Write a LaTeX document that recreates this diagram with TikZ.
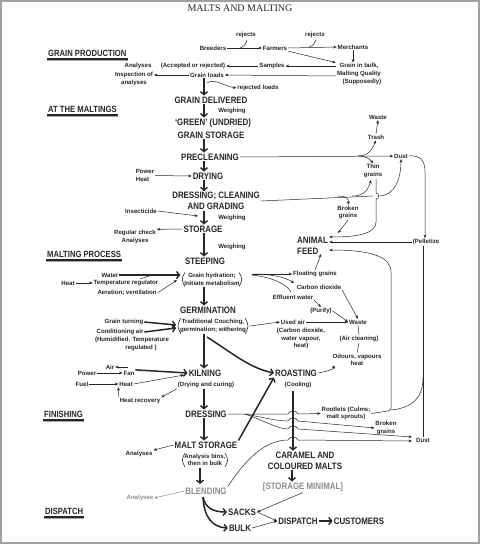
\documentclass[tikz,border=0pt]{standalone}
\usepackage{fontspec}
\setmainfont{Liberation Sans}
\newfontfamily\bigf[FakeStretch=0.85]{Liberation Sans}
\newfontfamily\titlef{Liberation Serif}
\usetikzlibrary{arrows.meta}
\definecolor{ink}{HTML}{262626}
\definecolor{faded}{HTML}{8C8C8C}
\newcommand\parenpair[1]{%
  \draw[ink,line width=0.6pt] ([xshift=1.5pt]#1.north west) .. controls ([xshift=-2pt]#1.west) .. ([xshift=1.5pt]#1.south west);
  \draw[ink,line width=0.6pt] ([xshift=-1.5pt]#1.north east) .. controls ([xshift=2pt]#1.east) .. ([xshift=-1.5pt]#1.south east);}
\begin{document}
\begin{tikzpicture}[x=1pt,y=-1pt,
  big/.style={font=\bigf\bfseries\fontsize{9.3}{10.6}\selectfont, inner sep=1pt, align=center, text=ink},
  head/.style={font=\bigf\bfseries\fontsize{9}{10}\selectfont, inner sep=1pt, text=ink, anchor=west},
  sm/.style={font=\bfseries\fontsize{6.1}{7.6}\selectfont, inner sep=0.8pt, align=center, text=ink},
  ar/.style={draw=ink, line width=0.5pt, -{Stealth[length=3.5pt,width=2.8pt]}},
  ln/.style={draw=ink, line width=0.5pt},
  tk/.style={draw=ink, line width=1.5pt, -{Straight Barb[length=3pt,width=7pt,line width=1.4pt]}},
  ul/.style={draw=ink, line width=1.4pt},
  uls/.style={draw=black!35, line width=1.2pt}]
\useasboundingbox (0,0) rectangle (480,544);
\fill[white] (0,0) rectangle (480,544);
\draw[gray!75, line width=2pt] (1,1) rectangle (479,543);
\coordinate (spine) at (204,0);

% title and section headings
\node[font=\titlef\fontsize{10}{12}\selectfont, text=ink] (title) at (240,8) {MALTS AND MALTING};
\node[head] (hgp) at (47,53) {GRAIN PRODUCTION};
\node[head] (hatm) at (47,109) {AT THE MALTINGS};
\node[head] (hmp) at (46,254) {MALTING PROCESS};
\node[head] (hfin) at (43,414) {FINISHING};
\node[head] (hdis) at (44,511) {DISPATCH};
\foreach \h in {hgp,hatm,hmp,hfin,hdis}{
  \draw[ul] ([yshift=-1.5pt]\h.south west) -- ([yshift=-1.5pt]\h.south east);
  \draw[uls] ([yshift=-3.3pt]\h.south west) -- ([yshift=-3.3pt]\h.south east);}

% ---------------- nodes ----------------
\node[sm] (breed) at (213,48) {Breeders};
\node[sm] (farm) at (275,48) {Farmers};
\node[sm] (merch) at (353,47) {Merchants};
\node[sm] (rej1) at (246,35) {rejects};
\node[sm] (rej2) at (315,35) {rejects};
\node[sm] (bulk) at (359,74) {Grain in bulk,\\Malting Quality\\\hspace*{6pt}(Supposedly)};
\node[sm] (samp) at (272,66) {Samples};
\node[sm] (acc) at (193,66) {(Accepted or rejected)};
\node[sm] (anl1) at (138,66) {Analyses};
\node[sm] (gl) at (207,75) {Grain loads};
\node[sm] (insp) at (134,79) {Inspection of\\analyses};
\node[sm] (rejl) at (258,88) {rejected loads};

\node[big] (gd) at (211,100) {GRAIN DELIVERED};
\node[sm] (weigh1) at (232,111) {Weighing};
\node[big] (green) at (213,123) {‘GREEN’ (UNDRIED)};
\node[big] (gs) at (211,135) {GRAIN STORAGE};
\node[big] (prec) at (210,157) {PRECLEANING};
\node[sm, align=left] (power) at (145,175.5) {Power\\Heat};
\node[big] (dry) at (208,176) {DRYING};
\node[big] (dress1) at (216,201) {DRESSING; CLEANING\\AND GRADING};
\node[sm] (insect) at (141,211) {Insecticide};
\node[sm] (weigh2) at (232,218) {Weighing};
\node[big] (stor) at (203,229) {STORAGE};
\node[sm] (regc) at (135,237) {Regular check\\Analyses};
\node[sm] (weigh3) at (232,247) {Weighing};

\node[sm] (waste1) at (378,117) {Waste};
\node[sm] (trash) at (376,137) {Trash};
\node[sm] (dust1) at (401,156) {Dust};
\node[sm] (thin) at (373,171) {Thin\\grains};
\node[sm] (brk1) at (348,212.5) {Broken\\grains};
\node[big, align=left, anchor=west] (feed) at (296,246) {ANIMAL\\FEED};
\node[sm] (pel) at (426,242) {(Pelletize};

\node[big] (steep) at (205,261) {STEEPING};
\node[sm] (gh) at (212,279.5) {Grain hydration;\\Initiate metabolism};
\node[sm] (water) at (110,275) {Water};
\node[sm] (heat1) at (68,283) {Heat};
\node[sm] (temp) at (126,283) {Temperature regulator};
\node[sm] (aer) at (127,293) {Aeration; ventilation};
\node[sm] (flo) at (315,274) {Floating grains};
\node[sm] (co2) at (319,287) {Carbon dioxide};
\node[sm] (eff) at (293,297) {Effluent water};
\node[sm] (pur) at (321,311) {(Purify)};
\node[sm] (waste2) at (358,322) {Waste};
\node[sm] (used) at (293,322) {Used air};
\node[sm] (usedd) at (301,338.5) {(Carbon dioxide,\\water vapour,\\heat)};
\node[sm] (airc) at (359,339) {(Air cleaning)};
\node[sm] (odo) at (357,360) {Odours, vapours\\heat};

\node[big] (germ) at (208,310) {GERMINATION};
\node[sm] (tc) at (213,326) {Traditional Couching,\\germination; withering};
\node[sm] (gt) at (124,322) {Grain turning};
\node[sm] (cond) at (120,332) {Conditioning air};
\node[sm] (hum) at (132,344) {(Humidified. Temperature\\\hspace*{18pt}regulated )};

\node[big] (kiln) at (205,373) {KILNING};
\node[sm] (dac) at (206,385) {(Drying and curing)};
\node[sm] (air) at (110,367) {Air};
\node[sm] (pow) at (87,373) {Power};
\node[sm] (fan) at (129,373) {Fan};
\node[sm] (fuel) at (82,384) {Fuel};
\node[sm] (heat2) at (126,384) {Heat};
\node[sm] (hrec) at (140,401) {Heat recovery};
\node[big] (roast) at (296,373) {ROASTING};
\node[sm] (cool) at (298,385) {(Cooling)};

\node[big] (dress2) at (206,414) {DRESSING};
\node[sm] (root) at (346,413.5) {Rootlets (Culms;\\malt sprouts)};
\node[sm] (brk2) at (386,428) {Broken\\grains};
\node[sm] (dust2) at (423,440) {Dust};
\node[big] (ms) at (206,445) {MALT STORAGE};
\node[sm] (anl2) at (139,454) {Analyses};
\node[sm] (abins) at (205,460) {Analysis bins,\\then in bulk};
\node[big, text=faded] (blend) at (206,491) {BLENDING};
\node[sm, text=faded] (anl3) at (140,498) {Analyses};
\node[big] (car) at (305,460.5) {CARAMEL AND\\COLOURED MALTS};
\node[big, text=faded] (smin) at (303,487) {[STORAGE MINIMAL]};

\node[big] (sacks) at (242,512) {SACKS};
\node[big] (bulkk) at (240,528) {BULK};
\node[big] (disp) at (298,521) {DISPATCH};
\node[big] (cust) at (359,521) {CUSTOMERS};

\parenpair{gh}
\parenpair{tc}
\parenpair{abins}

% ---------------- connectors ----------------
% grain production
\draw[ar] (breed.east) -- (farm.west);
\draw[ln] (240,48) .. controls (244,47) and (246,44) .. (247,40);
\draw[ar] (farm.east) -- (merch.west);
\draw[ln] (309,47) .. controls (313,46) and (315,43) .. (316,40);
\draw[ar] (farm.south east) -- (bulk.north west);
\draw[ar] (merch.south) -- (merch.south |- bulk.north);
\draw[ar] (bulk.west |- samp) -- (samp.east);
\draw[ar] (samp.west) -- (acc.east);
\draw[ar] ([yshift=-2pt]bulk.west) -- (gl.east);
\draw[ar] (gl.west) -- (insp.east |- gl);
\draw[tk] (gl.south -| spine) -- (spine |- gd.north);
\draw[ar] (207,83) .. controls (214,78) and (224,86) .. (rejl.west);

% maltings spine
\draw[tk] (spine |- gd.south) -- (spine |- green.north);
\draw[tk] (spine |- gs.south) -- (spine |- prec.north);
\draw[tk] (spine |- prec.south) -- (spine |- dry.north);
\draw[ar] (power.east) -- (dry.west);
\draw[tk] (spine |- dry.south) -- (spine |- dress1.north);
\draw[ar] (insect.east) -- (198,216);
\draw[tk] (spine |- dress1.south) -- (spine |- stor.north);
\draw[ar] (stor.west) -- (regc.north east);
\draw[tk] (spine |- stor.south) -- (spine |- steep.north);

% right side by-products
\draw[ar] (prec.east) -- (dust1.west);
\draw[ar] (358,156) .. controls (368,156) and (372,150) .. (trash.south);
\draw[ar] (trash.north) -- (waste1.south);
\draw[ar] (358,156) .. controls (366,156) and (370,159) .. (thin.north);
\draw[ar] (dust1.east) .. controls (420,155) and (425,160) .. (425,172) -- (pel.north -| 425,0);
\draw[ar] (pel.west) -- (feed.east |- pel);
\draw[ln] (dress1.east) -- (373,196);
\draw[ar] (338,196) .. controls (347,196) and (349,199) .. (brk1.north);
\draw[ar] (352,196) .. controls (364,196) and (368,190) .. (371,180);
\draw[ar] (379,196) .. controls (395,196) and (401,178) .. (dust1.south);
\draw[ar] (376,179) -- (376,193) .. controls (379.5,193) and (379.5,199) .. (376,199)
  -- (376,222) .. controls (376,233) and (360,237) .. (feed.east |- 0,237);
\draw[ar] (brk1.south) -- (338,233);

% steeping
\draw[tk] (water.east) -- ([xshift=-3pt]gh.west |- water);
\draw[ar] (heat1.east) -- (temp.west);
\draw[ln] (140,279) -- (152,275);
\draw[ar] (aer.east) -- (177,280);
\draw[ar] (252,274) -- (flo.west);
\draw[ar] (252,274) .. controls (270,274) and (285,277) .. (294,283);
\draw[ln] (252,275) .. controls (270,277) and (286,283) .. (291,292);
\draw[ar] (flo.north) -- (321,254);
\draw[ar] (eff.south east) -- (pur.north);
\draw[ar] (pur.east) -- (waste2.west);
\draw[ar] (co2.south east) -- (waste2.north);
\draw[ar] (used.east) -- (waste2.west);
\draw[ln] (waste2.south) -- (airc.north);
\draw[ln] (airc.south) -- (odo.north);

% germination
\draw[tk] (spine |- gh.south) -- (spine |- germ.north);
\draw[tk] (gt.east) -- ([xshift=-3pt]tc.west |- 0,325);
\draw[tk] (cond.east) -- ([xshift=-3pt]tc.west |- 0,328);
\draw[ar] ([xshift=3pt]tc.east) -- (used.west);

% kilning, roasting
\draw[tk] (spine |- tc.south) -- (spine |- kiln.north);
\draw[tk] (207,337) .. controls (235,355) and (250,368) .. (roast.west);
\draw[ar] (128,367) -- (air.east);
\draw[tk] (fan.north east) -- (kiln.west);
\draw[ar] (pow.east) -- (fan.west);
\draw[ar] (fuel.east) -- (heat2.west);
\draw[ar] (heat2.east) -- (184,375);
\draw[ar] (hrec.north west) -- (heat2.south west);
\draw[ar] (dac.south west) -- (hrec.north east);
\draw[ar] (roast.east) .. controls (330,371) and (338,367) .. (odo.south west);

% finishing
\draw[tk] (spine |- dac.south) -- (spine |- dress2.north);
\draw[tk] (spine |- dress2.south) -- (spine |- ms.north);
\draw[tk] (ms.north east) -- (roast.south west);
\draw[ar] (ms.west) -- (anl2.north east);
\draw[tk] (200,468) -- (200,484);
\draw[ar, draw=faded] (blend.west) -- (anl3.east);
\draw[tk] (293,391) -- (car.north -| 293,0);
\draw[tk] (car.south -| 292,0) -- (smin.north -| 292,0);

\draw[ar] (dress2.east) -- (288,414) .. controls (289,410) and (297,410) .. (298,414) -- (root.west);
\draw[ar] (245,414) .. controls (265,418) and (278,421) .. (288,421) .. controls (289,417) and (297,417) .. (298,421) -- (brk2.west);
\draw[ar] (245,414) .. controls (265,421) and (278,429) .. (288,429) .. controls (289,425) and (297,425) .. (298,429) -- (412,437);
\draw[ar] (blend.north east) .. controls (242,465) and (262,440) .. (288,440) .. controls (289,436) and (297,436) .. (298,440) -- (412,441);
\draw[ln] (root.east) -- (388,411) .. controls (391.5,411) and (391.5,405) .. (391,405);
\draw[ar] (391,405) -- (391,272) .. controls (391,257) and (372,250) .. (feed.east |- 0,250);
\draw[ln] (391,410) .. controls (412,408) and (423,398) .. (423,378);
\draw[ln] (pel.south -| 423,0) -- (dust2.north);

% dispatch
\draw[ar] (smin.south) -- (sacks.east);
\draw[tk] (203,497) .. controls (205,507) and (212,512) .. (sacks.west);
\draw[tk] (203,497) .. controls (204,517) and (212,527) .. (bulkk.west);
\draw[ar] (sacks.east) -- (disp.west);
\draw[ar] (bulkk.east) -- (disp.west);
\draw[tk] (disp.east) -- (cust.west);
\end{tikzpicture}
\end{document}
